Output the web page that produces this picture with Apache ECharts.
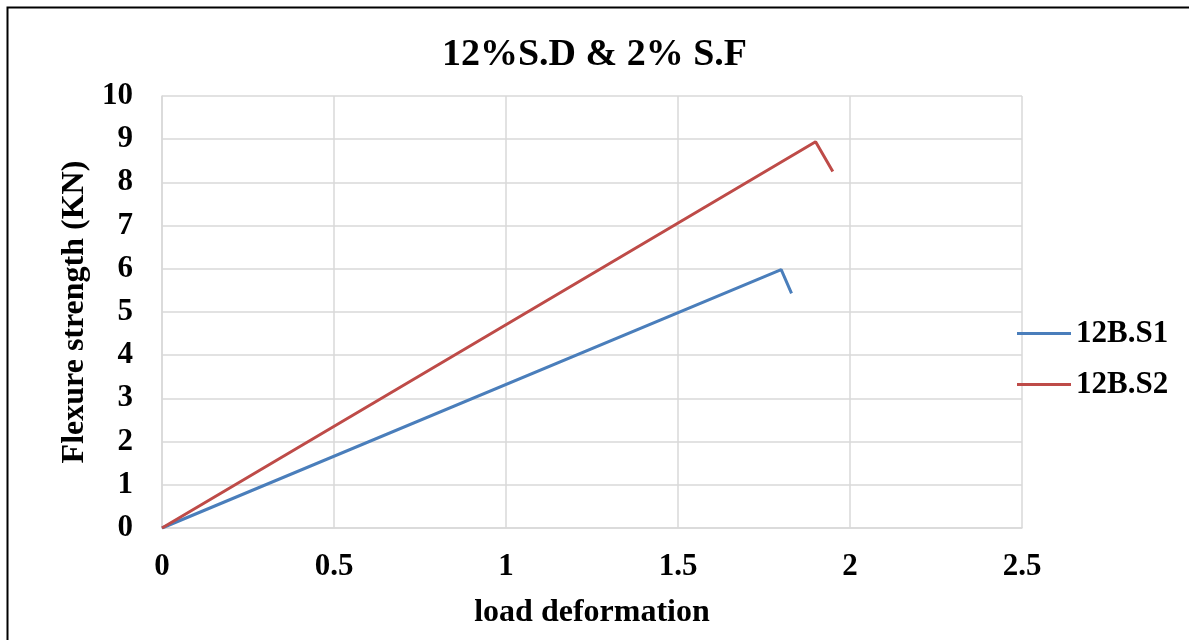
<!DOCTYPE html>
<html>
<head>
<meta charset="utf-8">
<script src="https://cdn.jsdelivr.net/npm/echarts@6/dist/echarts.min.js"></script>
<style>
  html, body { margin: 0; padding: 0; background: #fff; }
  #chart { width: 1189px; height: 640px; }
</style>
</head>
<body>
<div id="chart"></div>
<script>
// Load–deflection readings for the two beam specimens
const seriesNames = ['12B.S1', '12B.S2'];
const s1Deformation = [0, 1.80, 1.83];
const s1Strength = [0, 5.98, 5.43];
const s2Deformation = [0, 1.90, 1.95];
const s2Strength = [0, 8.94, 8.25];
const seriesColors = ['#4a7ebb', '#be4b48'];

const font = 'Liberation Serif, Times New Roman, serif';

function pairs(xs, ys) {
  return xs.map((x, i) => [x, ys[i]]);
}

const chart = echarts.init(document.getElementById('chart'), null, { renderer: 'canvas' });

chart.setOption({
  backgroundColor: '#fff',
  animation: false,
  title: {
    text: '12%S.D & 2% S.F',
    left: 'center',
    top: 31,
    padding: [5, 0, 5, 17],
    textStyle: { fontFamily: font, fontSize: 38, fontWeight: 'bold', color: '#000' }
  },
  legend: {
    orient: 'vertical',
    left: 1012,
    top: 313,
    itemWidth: 54,
    itemHeight: 3,
    itemGap: 20,
    icon: 'rect',
    textStyle: { fontFamily: font, fontSize: 31, fontWeight: 'bold', color: '#000' },
    data: seriesNames
  },
  grid: { left: 162, right: 167, top: 96, bottom: 112 },
  xAxis: {
    type: 'value',
    min: 0, max: 2.5, interval: 0.5,
    name: 'load deformation',
    nameLocation: 'middle',
    nameGap: 69,
    nameTextStyle: { fontFamily: font, fontSize: 32, fontWeight: 'bold', color: '#000' },
    axisLine: { show: true, lineStyle: { color: '#d9d9d9', width: 1.5 } },
    axisTick: { show: false },
    axisLabel: { fontFamily: font, fontSize: 31, fontWeight: 'bold', color: '#000', margin: 23 },
    splitLine: { show: true, lineStyle: { color: '#d9d9d9', width: 1.5 } }
  },
  yAxis: {
    type: 'value',
    min: 0, max: 10, interval: 1,
    name: 'Flexure strength (KN)',
    nameLocation: 'middle',
    nameGap: 64,
    nameRotate: 90,
    nameTextStyle: { fontFamily: font, fontSize: 32, fontWeight: 'bold', color: '#000' },
    axisLine: { show: true, lineStyle: { color: '#d9d9d9', width: 1.5 } },
    axisTick: { show: false },
    axisLabel: { fontFamily: font, fontSize: 31, fontWeight: 'bold', color: '#000', margin: 29, padding: [6, 0, 0, 0] },
    splitLine: { show: true, lineStyle: { color: '#d9d9d9', width: 1.5 } }
  },
  series: [
    {
      name: seriesNames[0],
      type: 'line',
      data: pairs(s1Deformation, s1Strength),
      symbol: 'none',
      color: seriesColors[0],
      lineStyle: { width: 3, color: seriesColors[0] }
    },
    {
      name: seriesNames[1],
      type: 'line',
      data: pairs(s2Deformation, s2Strength),
      symbol: 'none',
      color: seriesColors[1],
      lineStyle: { width: 3, color: seriesColors[1] }
    }
  ],
  graphic: [
    {
      type: 'rect',
      left: 5, top: 5,
      shape: { width: 1300, height: 700 },
      style: { fill: 'none', stroke: '#000', lineWidth: 2 },
      silent: true
    }
  ]
});
</script>
</body>
</html>
